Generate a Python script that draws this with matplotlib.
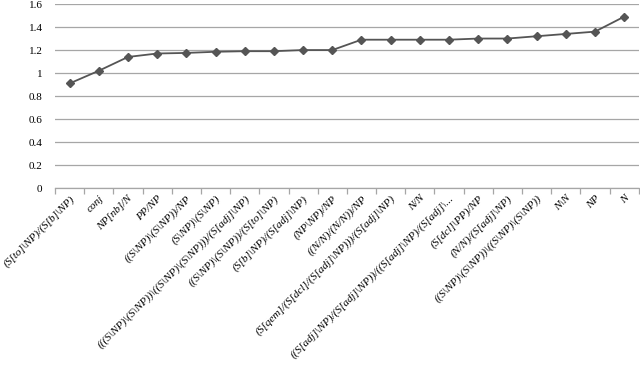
import matplotlib.pyplot as plt
import numpy as np
from matplotlib.ticker import FixedLocator, FuncFormatter

categories = [
    r'(S[to]\NP)/(S[b]\NP)',
    'conj',
    'NP[nb]/N',
    'PP/NP',
    r'((S\NP)\(S\NP))/NP',
    r'(S\NP)\(S\NP)',
    r'(((S\NP)\(S\NP))\((S\NP)\(S\NP)))/(S[adj]\NP)',
    r'((S\NP)\(S\NP))/(S[to]\NP)',
    r'(S[b]\NP)/(S[adj]\NP)',
    r'(NP\NP)/NP',
    '((N/N)/(N/N))/NP',
    r'(S[qem]/(S[dcl]/(S[adj]\NP)))/(S[adj]\NP)',
    'N/N',
    r'((S[adj]\NP)/(S[adj]\NP))/((S[adj]\NP)/(S[adj]\...',
    r'(S[dcl]\PP)/NP',
    r'(N/N)/(S[adj]\NP)',
    r'((S\NP)\(S\NP))\((S\NP)\(S\NP))',
    r'N\N',
    'NP',
    'N',
]
values = [0.91, 1.02, 1.14, 1.17, 1.175, 1.185, 1.19, 1.19, 1.20, 1.20,
          1.29, 1.29, 1.29, 1.29, 1.30, 1.30, 1.32, 1.34, 1.36, 1.49]
y_ticks = [0, 0.2, 0.4, 0.6, 0.8, 1.0, 1.2, 1.4, 1.6]

fig = plt.figure(figsize=(6.4, 3.66), dpi=100)
ax = fig.add_axes([0.086, 0.486, 0.912, 0.503])

x = np.arange(len(categories))
ax.plot(x, values, color='#555555', lw=1.3, marker='D', ms=4,
        mfc='#555555', mec='#555555')

ax.set_xlim(-0.5, len(categories) - 0.5)
ax.set_ylim(0, 1.6)
ax.set_yticks(y_ticks)
ax.yaxis.set_major_formatter(FuncFormatter(lambda v, p: '%g' % v))
ax.yaxis.grid(True, color='#a6a6a6', lw=0.9)
ax.set_axisbelow(True)

for s in ['left', 'right', 'top']:
    ax.spines[s].set_visible(False)
ax.spines['bottom'].set_color('#a6a6a6')
ax.spines['bottom'].set_linewidth(0.9)

ax.tick_params(axis='y', length=0, pad=9, labelsize=8)
for t in ax.get_yticklabels():
    t.set_fontfamily('Liberation Serif')

ax.set_xticks(x)
ax.set_xticklabels(categories, rotation=45, ha='right', va='top',
                   rotation_mode='anchor', fontsize=8.1,
                   fontfamily='Liberation Serif', fontstyle='italic')
ax.tick_params(axis='x', which='major', length=0, pad=4)
ax.xaxis.set_minor_locator(FixedLocator(np.arange(-0.5, len(categories), 1.0)))
ax.tick_params(axis='x', which='minor', length=4, color='#a6a6a6', width=0.9)

fig.savefig('out.png', dpi=100)
